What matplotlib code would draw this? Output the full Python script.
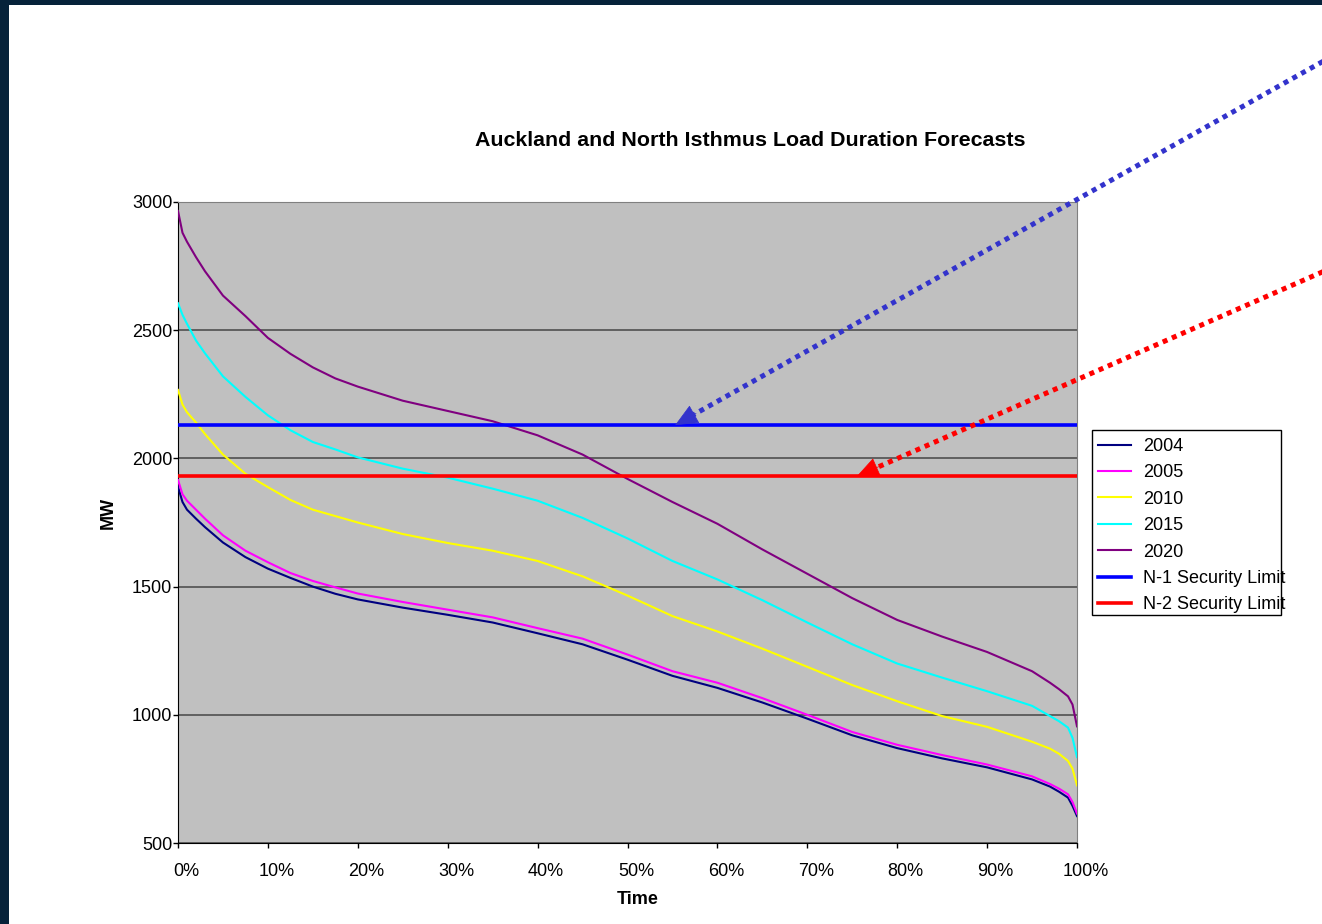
import numpy as np
import matplotlib.pyplot as plt
from matplotlib.patches import Rectangle
from matplotlib.lines import Line2D
from matplotlib.transforms import ScaledTranslation, IdentityTransform

plt.rcParams['font.family'] = ['Liberation Sans', 'DejaVu Sans']

# Load duration curves (MW), x in % of time
time_pct = [0, 0.5, 1, 2, 3, 5, 7.5, 10, 12.5, 15, 17.5, 20, 25, 30, 35, 40, 45, 50,
            55, 60, 65, 70, 75, 80, 85, 90, 95, 97, 98, 99, 99.5, 100]
load_2004 = [1889, 1830, 1800, 1765, 1732, 1672, 1615, 1570, 1534, 1500, 1472, 1450, 1418,
             1390, 1360, 1318, 1275, 1215, 1152, 1105, 1048, 985, 920, 870, 830, 795, 748,
             720, 700, 677, 645, 605]
load_2005 = [1916, 1860, 1835, 1800, 1765, 1700, 1640, 1595, 1553, 1522, 1497, 1473, 1440,
             1410, 1380, 1338, 1297, 1235, 1170, 1125, 1065, 1000, 933, 883, 843, 806, 760,
             730, 712, 690, 660, 615]
load_2010 = [2267, 2210, 2180, 2140, 2095, 2015, 1940, 1888, 1838, 1800, 1775, 1750, 1705,
             1670, 1640, 1600, 1540, 1465, 1385, 1325, 1258, 1187, 1116, 1053, 995, 953, 895,
             868, 848, 820, 790, 725]
load_2015 = [2605, 2560, 2525, 2460, 2410, 2320, 2240, 2168, 2110, 2064, 2035, 2004, 1960,
             1925, 1882, 1835, 1768, 1688, 1600, 1528, 1447, 1360, 1275, 1200, 1145, 1092,
             1035, 995, 975, 950, 910, 835]
load_2020 = [2965, 2880, 2845, 2785, 2730, 2635, 2555, 2470, 2408, 2355, 2312, 2280, 2225,
             2185, 2145, 2090, 2015, 1920, 1830, 1745, 1645, 1550, 1455, 1370, 1305, 1245,
             1170, 1125, 1100, 1072, 1040, 955]

series = [('2004', load_2004, '#000080'),
          ('2005', load_2005, '#FF00FF'),
          ('2010', load_2010, '#FFFF00'),
          ('2015', load_2015, '#00FFFF'),
          ('2020', load_2020, '#800080')]

n1_limit = 2130
n2_limit = 1930
# where the callout arrows touch the limit lines (% time)
n1_arrow_x = 55.3
n2_arrow_x = 75.5

W, H = 1322, 924
fig = plt.figure(figsize=(W / 100, H / 100), dpi=100)
fig.patch.set_facecolor('white')

# dark frame strips on top and left edge
fig.patches.append(Rectangle((0, 1 - 5 / H), 1, 5 / H, transform=fig.transFigure,
                             facecolor='#06223A', edgecolor='none', zorder=0))
fig.patches.append(Rectangle((0, 0), 9 / W, 1, transform=fig.transFigure,
                             facecolor='#06223A', edgecolor='none', zorder=0))

ax = fig.add_axes([178 / W, 81 / H, 899 / W, 641 / H])
ax.set_facecolor('#C0C0C0')

handles = []
for name, vals, col in series:
    h, = ax.plot(time_pct, vals, color=col, lw=1.5, label=name, zorder=3)
    handles.append(h)
h1 = ax.axhline(n1_limit, color='#0000FF', lw=2.6, label='N-1 Security Limit', zorder=4)
h2 = ax.axhline(n2_limit, color='#FF0000', lw=2.6, label='N-2 Security Limit', zorder=4)
handles += [h1, h2]

ax.set_xlim(0, 100)
ax.set_ylim(500, 3000)
ax.set_yticks(range(500, 3001, 500))
ax.set_xticks(range(0, 101, 10))
ax.set_xticklabels([f'{v}%' for v in range(0, 101, 10)])
ax.grid(axis='y', color='#505050', lw=1.2, zorder=1)
ax.set_axisbelow(True)

ax.tick_params(direction='out', length=3.6, width=1, color='black', labelsize=13)
ax.tick_params(axis='y', pad=0.5)
ax.tick_params(axis='x', pad=10.5)
shift = ScaledTranslation(8.5 / 100, 0, fig.dpi_scale_trans)
for lab in ax.get_xticklabels():
    lab.set_transform(lab.get_transform() + shift)

for side in ['top', 'right']:
    ax.spines[side].set_color('#808080')
for side in ['left', 'bottom']:
    ax.spines[side].set_color('black')

ax.set_xlabel('Time', fontsize=13, fontweight='bold')
ax.xaxis.set_label_coords((637.5 - 178) / 899, -(900 - 843) / 641)
ax.xaxis.label.set_va('center')
ax.set_ylabel('MW', fontsize=13, fontweight='bold')
ax.yaxis.set_label_coords((108 - 178) / 899, (843 - 513) / 641)
ax.yaxis.label.set_va('center')

fig.text(750 / W, 1 - 140 / H, 'Auckland and North Isthmus Load Duration Forecasts',
         ha='center', va='center', fontsize=15.4, fontweight='bold')

# legend, with a fixed box like the original (text spills past its right edge)
fig.legend(handles, [h.get_label() for h in handles], loc='upper left',
           bbox_to_anchor=(1098 / W, 1 - 438 / H), frameon=False, fontsize=13,
           handlelength=1.83, handletextpad=0.66, labelspacing=0.52,
           borderpad=0, borderaxespad=0)
fig.patches.append(Rectangle((1092 / W, 1 - 615 / H), 189 / W, 185 / H,
                             transform=fig.transFigure, fill=False,
                             edgecolor='black', lw=1, zorder=5))

# dotted callout arrows coming in from off the right edge
arrows = [(n1_arrow_x, n1_limit, '#3333CC', (1345, H - 49)),
          (n2_arrow_x, n2_limit, '#FF0000', (1345, H - 262))]
for ax_x, ax_y, col, start in arrows:
    tip = ax.transData.transform((ax_x, ax_y))
    d = np.array(start) - tip
    d = d / np.hypot(*d)
    shaft_end = tip + d * 17
    fig.add_artist(Line2D([start[0], shaft_end[0]], [start[1], shaft_end[1]],
                          transform=IdentityTransform(), color=col, lw=3.6,
                          linestyle=(0, (1, 1)), dash_capstyle='butt', zorder=6))
    ax.annotate('', xy=(ax_x, ax_y), xycoords='data', xytext=tuple(d * 24),
                textcoords='offset pixels', annotation_clip=False, zorder=10,
                arrowprops=dict(arrowstyle='-|>,head_length=1.0,head_width=0.45',
                                mutation_scale=15, color=col, lw=0.5,
                                shrinkA=0, shrinkB=0))

fig.savefig('out.png', dpi=100)
